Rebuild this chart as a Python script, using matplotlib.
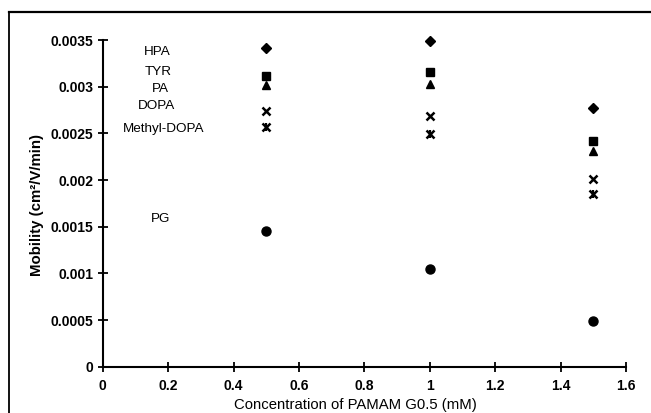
import matplotlib
matplotlib.use("Agg")
import matplotlib.pyplot as plt
from matplotlib.lines import Line2D

plt.rcParams['font.family'] = ['Liberation Sans', 'DejaVu Sans']

conc = [0.5, 1.0, 1.5]
hpa = [0.00341, 0.00349, 0.00277]
tyr = [0.003115, 0.003155, 0.00242]
pa = [0.00302, 0.003025, 0.00231]
dopa = [0.00274, 0.00269, 0.002015]
methyl_dopa = [0.00257, 0.00249, 0.001855]
pg = [0.001453, 0.00105, 0.000494]

series_names = ["HPA", "TYR", "PA", "DOPA", "Methyl-DOPA", "PG"]
label_x = [0.165, 0.17, 0.175, 0.165, 0.186, 0.175]
label_y = [0.00337, 0.00316, 0.002975, 0.00279, 0.002545, 0.00158]

xticks = [0, 0.2, 0.4, 0.6, 0.8, 1.0, 1.2, 1.4, 1.6]
xtick_labels = ["0", "0.2", "0.4", "0.6", "0.8", "1", "1.2", "1.4", "1.6"]
yticks = [0, 0.0005, 0.001, 0.0015, 0.002, 0.0025, 0.003, 0.0035]
ytick_labels = ["0", "0.0005", "0.001", "0.0015", "0.002", "0.0025", "0.003", "0.0035"]

fig = plt.figure(figsize=(6.51, 4.13), dpi=100)
ax = fig.add_axes([0.158, 0.1121, 0.8036, 0.7910])

k = dict(linestyle='none', color='black', clip_on=False)
ax.plot(conc, hpa, marker='D', markersize=5.5, **k)
ax.plot(conc, tyr, marker='s', markersize=5.5, **k)
ax.plot(conc, pa, marker='^', markersize=6, **k)
ax.plot(conc, dopa, marker='x', markersize=6, markeredgewidth=1.8, **k)
ax.plot(conc, methyl_dopa, marker='x', markersize=6, markeredgewidth=1.8, **k)
ax.plot(conc, methyl_dopa, marker='|', markersize=6, markeredgewidth=1.6, **k)
ax.plot(conc, pg, marker='o', markersize=6.5, **k)

for name, lx, ly in zip(series_names, label_x, label_y):
    ax.text(lx, ly, name, ha='center', va='center', fontsize=9.7, color='black')

ax.set_xlim(0, 1.6)
ax.set_ylim(0, 0.0035)
ax.set_xticks(xticks)
ax.set_xticklabels(xtick_labels, fontsize=10, fontweight='bold')
ax.set_yticks(yticks)
ax.set_yticklabels(ytick_labels, fontsize=10, fontweight='bold')
ax.tick_params(axis='both', direction='inout', length=7, width=1.3, color='black')
ax.tick_params(axis='x', pad=5.5)
ax.tick_params(axis='y', pad=3.5)

for s in ['top', 'right']:
    ax.spines[s].set_visible(False)
for s in ['left', 'bottom']:
    ax.spines[s].set_linewidth(1.5)

ax.set_xlabel("Concentration of PAMAM G0.5 (mM)", fontsize=10.7, va='center')
ax.xaxis.set_label_coords(0.482, -0.118)
ax.set_ylabel("Mobility (cm\u00b2/V/min)", fontsize=10.8, fontweight='bold', va='center')
ax.yaxis.set_label_coords(-0.126, 0.495)

# outer frame (left and top border)
fig.add_artist(Line2D([9/651, 9/651], [0, 1 - 12/413], transform=fig.transFigure,
                      color='black', linewidth=1.3))
fig.add_artist(Line2D([9/651, 1], [1 - 12/413, 1 - 12/413], transform=fig.transFigure,
                      color='black', linewidth=1.6))

fig.savefig("out.png", dpi=100)
